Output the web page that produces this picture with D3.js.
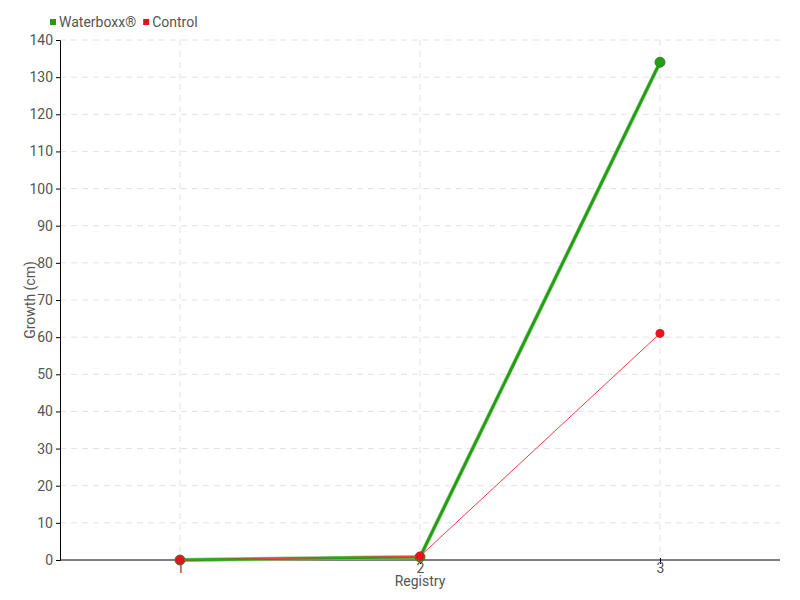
<!DOCTYPE html>
<html>
<head>
<meta charset="utf-8">
<script src="https://cdn.jsdelivr.net/npm/d3@7"></script>
<style>
	body { margin: 0; background: #fff; }
	svg text { font-family: "Liberation Sans Narrow", "Roboto", sans-serif; fill: #555; }
</style>
</head>
<body>
<div id="container"></div>
<script>
// data
const registry = [1, 2, 3]
const waterboxx = [0, 0.8, 134]
const control = [0, 1, 61]
const yTicks = d3.range(0, 141, 10)

const width = 800
const height = 600
const margin = { top: 40, right: 20, bottom: 40, left: 60 }

const svg = d3.select("#container")
	.append("svg")
	.attr("width", width)
	.attr("height", height)

const x = d3.scaleLinear()
	.domain([0.5, 3.5])
	.range([margin.left, width - margin.right])

const y = d3.scaleLinear()
	.domain([0, 140])
	.range([height - margin.bottom, margin.top])

// grid
svg.append("g")
	.selectAll("line")
	.data(yTicks.slice(1))
	.join("line")
	.attr("x1", margin.left)
	.attr("x2", width - margin.right)
	.attr("y1", d => y(d))
	.attr("y2", d => y(d))
	.attr("stroke", "#e2e2e2")
	.attr("stroke-dasharray", "6,5")

svg.append("g")
	.selectAll("line")
	.data(registry)
	.join("line")
	.attr("x1", d => x(d))
	.attr("x2", d => x(d))
	.attr("y1", margin.top)
	.attr("y2", height - margin.bottom)
	.attr("stroke", "#e2e2e2")
	.attr("stroke-dasharray", "6,5")

// axes
const yAxis = svg.append("g")
	.attr("transform", `translate(${margin.left},0)`)
	.call(d3.axisLeft(y).tickValues(yTicks).tickSize(4).tickPadding(3))
yAxis.select(".domain").attr("stroke", "#000")
yAxis.selectAll(".tick line").attr("stroke", "#000")
yAxis.selectAll("text").attr("font-size", 14).attr("fill", "#555")
	.style("font-family", "'Liberation Sans Narrow', Roboto, sans-serif")

const xAxis = svg.append("g")
	.attr("transform", `translate(0,${height - margin.bottom})`)
	.call(d3.axisBottom(x).tickValues(registry).tickFormat(d3.format("d")).tickSize(4).tickPadding(-1))
xAxis.select(".domain").attr("stroke", "#000").attr("d", `M${margin.left},0H${width - margin.right}`)
xAxis.selectAll(".tick line").attr("stroke", "#000").attr("y1", -2)
xAxis.selectAll("text").attr("font-size", 14).attr("fill", "#555")
	.style("font-family", "'Liberation Sans Narrow', Roboto, sans-serif")

// axis labels
svg.append("text")
	.attr("x", x(2))
	.attr("y", 586)
	.attr("text-anchor", "middle")
	.attr("font-size", 14)
	.text("Registry")

svg.append("text")
	.attr("transform", `translate(35,${y(70)}) rotate(-90)`)
	.attr("text-anchor", "middle")
	.attr("font-size", 14)
	.text("Growth (cm)")

// lines
const line = d3.line()
	.x((d, i) => x(registry[i]))
	.y(d => y(d))

svg.append("path")
	.datum(waterboxx)
	.attr("fill", "none")
	.attr("stroke", "#7cc46f")
	.attr("stroke-width", 4)
	.attr("d", line)

svg.append("path")
	.datum(waterboxx)
	.attr("fill", "none")
	.attr("stroke", "#1e9e10")
	.attr("stroke-width", 2.5)
	.attr("d", line)

svg.append("g")
	.selectAll("circle")
	.data(waterboxx)
	.join("circle")
	.attr("cx", (d, i) => x(registry[i]))
	.attr("cy", d => y(d))
	.attr("r", 5)
	.attr("fill", "#22a015")
	.attr("stroke", "#3f7a30")
	.attr("stroke-width", 1)

svg.append("path")
	.datum(control)
	.attr("fill", "none")
	.attr("stroke", "#ff3a45")
	.attr("stroke-width", 1)
	.attr("d", line)

svg.append("g")
	.selectAll("circle")
	.data(control)
	.join("circle")
	.attr("cx", (d, i) => x(registry[i]))
	.attr("cy", d => y(d))
	.attr("r", 4.5)
	.attr("fill", "#e8121e")
	.attr("stroke", "none")

// legend
const legend = [
	{ name: "Waterboxx®", color: "#1ea012" },
	{ name: "Control", color: "#e8121e" },
]
const lg = svg.append("g").attr("transform", "translate(50,22)")
let lx = 0
legend.forEach(d => {
	lg.append("rect")
		.attr("x", lx)
		.attr("y", -3)
		.attr("width", 6)
		.attr("height", 6)
		.attr("fill", d.color)
	const t = lg.append("text")
		.attr("x", lx + 9)
		.attr("y", 5)
		.attr("font-size", 14)
		.text(d.name)
	lx += 9 + t.node().getComputedTextLength() + 7
})
</script>
</body>
</html>
